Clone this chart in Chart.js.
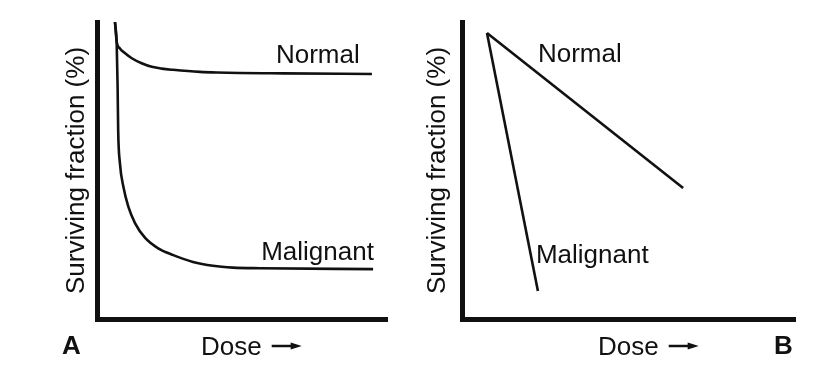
<!DOCTYPE html>
<html><head><meta charset="utf-8">
<script src="https://cdn.jsdelivr.net/npm/chart.js@4/dist/chart.umd.min.js"></script>
<style>
html,body{margin:0;padding:0;background:#fff;width:840px;height:380px;overflow:hidden}
#a{position:absolute;left:0;top:0}
#b{position:absolute;left:410px;top:0}
</style>
</head><body>
<canvas id="a" width="410" height="380"></canvas>
<canvas id="b" width="430" height="380"></canvas>
<script>
// ---- data (dose in arbitrary units 0-100, surviving fraction in % of axis height) ----
const yTitle = 'Surviving fraction (%)';
const xTitle = 'Dose';
const seriesNames = ['Normal', 'Malignant'];
const panelLetters = ['A', 'B'];

// Panel A: curved survival
const doseNormalA = [6.2, 6.8, 7.9, 9.7, 12.0, 15.4, 18.9, 22.3, 26.2, 35.5, 41.4, 64.1, 94.8];
const survNormalA = [100, 93.4, 91.1, 89.5, 87.8, 86.1, 84.9, 84.3, 83.9, 83.2, 83.0, 82.7, 82.5];
const doseMalignantA = [6.2, 6.8, 7.1, 7.3, 7.9, 9.1, 10.8, 13.1, 16.6, 21.1, 26.3, 33.1, 40.0, 46.9, 56.2, 95.2];
const survMalignantA = [100, 92.3, 78.8, 63.6, 52.5, 44.5, 37.8, 32.3, 27.3, 23.8, 21.5, 19.2, 17.9, 17.3, 17.1, 16.8];

// Panel B: straight lines
const doseNormalB = [7.5, 66.4];
const survNormalB = [96.3, 44.1];
const doseMalignantB = [7.5, 22.8];
const survMalignantB = [96.3, 9.4];

// ---- style ----
const INK = '#111111';
const FONT = '"Liberation Sans", Arial, Helvetica, sans-serif';
const FS = 26;

const pts = (xs, ys) => xs.map((v, i) => ({x: v, y: ys[i]}));

const overlay = {
  id: 'overlay',
  afterDraw(chart, args, o) {
    const {ctx} = chart;
    const {x, y} = chart.scales;
    ctx.save();
    ctx.fillStyle = INK;
    ctx.strokeStyle = INK;
    ctx.textAlign = 'left';
    ctx.textBaseline = 'alphabetic';
    ctx.font = FS + 'px ' + FONT;
    o.labels.forEach(l => ctx.fillText(l.text, x.getPixelForValue(l.x), y.getPixelForValue(l.y)));
    // x title with arrow
    ctx.fillText(xTitle, o.doseX, o.doseY);
    const w = ctx.measureText(xTitle).width;
    const ax0 = o.doseX + w + 10, ax1 = ax0 + 30, ay = o.doseY - 9;
    ctx.lineWidth = 2.5;
    ctx.beginPath(); ctx.moveTo(ax0, ay); ctx.lineTo(ax1 - 8, ay); ctx.stroke();
    ctx.beginPath(); ctx.moveTo(ax1 - 11, ay - 3.5); ctx.lineTo(ax1, ay); ctx.lineTo(ax1 - 11, ay + 3.5); ctx.closePath(); ctx.fill();
    // panel letter
    ctx.font = 'bold 26px ' + FONT;
    ctx.fillText(o.letter, o.letterX, o.letterY);
    ctx.restore();
  }
};

function makeChart(id, datasets, yWidth, titlePad, padRight, ov) {
  return new Chart(document.getElementById(id), {
    type: 'line',
    data: {datasets},
    plugins: [overlay],
    options: {
      responsive: false,
      animation: false,
      devicePixelRatio: 1,
      layout: {padding: {left: 0, top: 22, right: padRight, bottom: 0}},
      plugins: {legend: {display: false}, tooltip: {enabled: false}, overlay: ov},
      elements: {point: {radius: 0}},
      scales: {
        x: {
          type: 'linear', min: 0, max: 100,
          ticks: {display: false}, grid: {display: false},
          border: {display: true, width: 5, color: INK},
          afterFit: s => { s.height = 61; }
        },
        y: {
          type: 'linear', min: 0, max: 100,
          ticks: {display: false}, grid: {display: false},
          border: {display: true, width: 5, color: INK},
          title: {display: true, text: yTitle, color: INK, font: {family: FONT, size: FS}, padding: {top: titlePad, bottom: 0}},
          afterFit: s => { s.width = yWidth; }
        }
      }
    }
  });
}

const lineStyle = {borderColor: INK, borderWidth: 2.6, fill: false, clip: false, pointRadius: 0};

makeChart('a', [
  Object.assign({label: seriesNames[0], data: pts(doseNormalA, survNormalA), cubicInterpolationMode: 'monotone'}, lineStyle),
  Object.assign({label: seriesNames[1], data: pts(doseMalignantA, survMalignantA), cubicInterpolationMode: 'monotone'}, lineStyle)
], 97, 61, 23, {
  labels: [{text: seriesNames[0], x: 61.7, y: 86.2}, {text: seriesNames[1], x: 56.6, y: 19.9}],
  doseX: 201, doseY: 355, letter: panelLetters[0], letterX: 62, letterY: 354
});

makeChart('b', [
  Object.assign({label: seriesNames[0], data: pts(doseNormalB, survNormalB)}, lineStyle),
  Object.assign({label: seriesNames[1], data: pts(doseMalignantB, survMalignantB)}, lineStyle)
], 52, 12, 45, {
  labels: [{text: seriesNames[0], x: 22.8, y: 86.5}, {text: seriesNames[1], x: 22.2, y: 18.9}],
  doseX: 188, doseY: 355, letter: panelLetters[1], letterX: 364, letterY: 354
});
</script>
</body></html>
